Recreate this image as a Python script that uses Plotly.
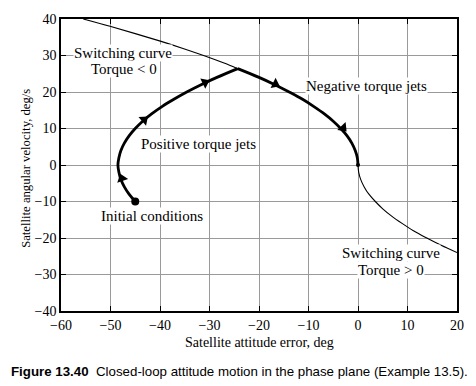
import math
import plotly.graph_objects as go

# ---- data ----
# positive-torque arc (initial conditions -> switching point)
pos_x = [-45.0, -46.25, -47.2, -47.9, -48.3, -48.5, -48.3, -47.9, -47.2, -46.25, -45.0,
         -43.5, -41.7, -39.6, -37.2, -34.6, -31.7, -28.5, -24.3]
pos_y = [-10, -8, -6, -4, -2, 0, 2, 4, 6, 8, 10, 12, 14, 16, 18, 20, 22, 24, 26.4]
# negative-torque arc (switching point -> origin)
neg_x = [-24.3, -20.0, -16.8, -13.9, -11.2, -8.9, -6.8, -5.0, -3.5, -2.2, -1.25, -0.56, -0.14, 0.0]
neg_y = [26.4, 24, 22, 20, 18, 16, 14, 12, 10, 8, 6, 4, 2, 0]
# switching curve, torque < 0 (upper part)
sw_neg_x = [-24.3, -27.2, -31.2, -35.5, -40.1, -45.0, -50.1, -55.5]
sw_neg_y = [26.4, 28, 30, 32, 34, 36, 38, 40]
# switching curve, torque > 0 (lower part)
sw_pos_x = [0.0, 0.14, 0.56, 1.25, 2.2, 3.5, 5.0, 6.8, 8.9, 11.2, 13.9, 16.8, 20.0]
sw_pos_y = [0, -2, -4, -6, -8, -10, -12, -14, -16, -18, -20, -22, -24]
# direction arrows on the trajectory: position and direction of motion (data units)
arrow_x = [-47.7, -43.2, -30.9, -16.7, -3.0]
arrow_y = [-3.7, 12.4, 22.6, 22.2, 10.2]
arrow_dx = [-0.26, 0.86, 1.57, 1.54, 0.71]
arrow_dy = [1, 1, 1, -1, -1]
init_x, init_y = [-45.0], [-10.0]

x_ticks = [-60, -50, -40, -30, -20, -10, 0, 10, 20]
y_ticks = [-40, -30, -20, -10, 0, 10, 20, 30, 40]

# ---- figure ----
W, H = 476, 386
ML, MR, MT, MB = 61, 15, 12, 75
pw, ph = W - ML - MR, H - MT - MB
sx, sy = pw / 80.0, ph / 80.0   # px per data unit

angles = [math.degrees(math.atan2(dx * sx, dy * sy)) for dx, dy in zip(arrow_dx, arrow_dy)]

fig = go.Figure()
line_thin = dict(color="black", width=1.1)
line_thick = dict(color="black", width=2.8)
fig.add_trace(go.Scatter(x=sw_neg_x, y=sw_neg_y, mode="lines", line=line_thin, line_shape="spline"))
fig.add_trace(go.Scatter(x=sw_pos_x, y=sw_pos_y, mode="lines", line=line_thin, line_shape="spline"))
fig.add_trace(go.Scatter(x=pos_x, y=pos_y, mode="lines", line=line_thick, line_shape="spline"))
fig.add_trace(go.Scatter(x=neg_x, y=neg_y, mode="lines", line=line_thick, line_shape="spline"))
fig.add_trace(go.Scatter(x=arrow_x, y=arrow_y, mode="markers",
                         marker=dict(symbol="triangle-up", size=10, color="black", angle=angles,
                                     line=dict(width=0))))
fig.add_trace(go.Scatter(x=init_x, y=init_y, mode="markers",
                         marker=dict(symbol="circle", size=8, color="black")))
fig.add_trace(go.Scatter(x=[0], y=[0], mode="markers",
                         marker=dict(symbol="circle", size=4, color="black")))

serif = "Liberation Serif"
axis_common = dict(showgrid=True, gridcolor="#9a9a9a", gridwidth=1, zeroline=False,
                   showline=True, linecolor="black", linewidth=1.5, mirror="ticks",
                   ticks="inside", ticklen=5, tickwidth=1, tickcolor="black",
                   tickfont=dict(family=serif, size=14, color="black"))
fig.update_xaxes(range=[-60, 20], tickvals=x_ticks, **axis_common)
fig.update_yaxes(range=[-40, 40], tickvals=y_ticks, **axis_common)

def label(text, x, y):
    fig.add_annotation(x=x, y=y, text=text, showarrow=False, bgcolor="white",
                       font=dict(family=serif, size=15, color="black"), borderpad=0)

label("Switching curve", -47.5, 30.6)
label("Torque < 0", -47.3, 26.3)
label("Negative torque jets", 1.8, 21.7)
label("Positive torque jets", -32.2, 5.7)
label("Initial conditions", -41.6, -13.9)
label("Switching curve", 6.6, -24.0)
label("Torque > 0", 6.7, -28.8)

fig.add_annotation(xref="paper", yref="paper", x=(17 - ML) / pw, y=(MT + ph - 165) / ph,
                   text="Satellite angular velocity, deg/s", textangle=-90, showarrow=False,
                   font=dict(family=serif, size=12.7, color="black"))
fig.add_annotation(xref="paper", yref="paper", x=0.5, y=(MT + ph - 343) / ph,
                   text="Satellite attitude error, deg", showarrow=False, yanchor="middle",
                   font=dict(family=serif, size=14, color="black"))
fig.add_annotation(xref="paper", yref="paper", x=(8 - ML) / pw, y=(MT + ph - 373) / ph,
                   xanchor="left", yanchor="middle", showarrow=False,
                   text="<b>Figure 13.40</b>  Closed-loop attitude motion in the phase plane (Example 13.5).",
                   font=dict(family="Liberation Sans", size=13.3, color="black"))

fig.update_layout(width=W, height=H, margin=dict(l=ML, r=MR, t=MT, b=MB),
                  paper_bgcolor="white", plot_bgcolor="white", showlegend=False)
fig.write_html("out.html", config={"displayModeBar": False},
               post_script="document.body.style.margin='0';document.body.style.padding='0';")
